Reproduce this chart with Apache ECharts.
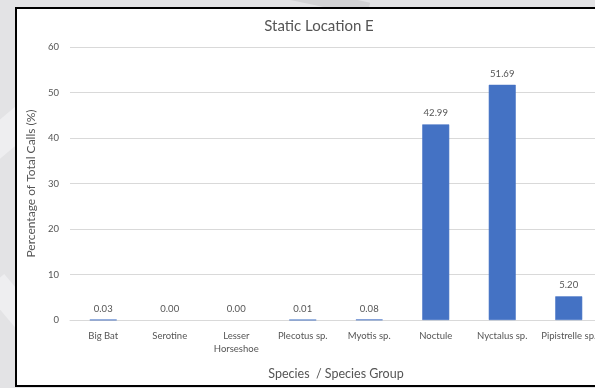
<!DOCTYPE html>
<html>
<head>
<meta charset="utf-8">
<script src="https://cdn.jsdelivr.net/npm/echarts@6/dist/echarts.min.js"></script>
<style>
  html, body { margin: 0; padding: 0; width: 595px; height: 388px; overflow: hidden; background: #e3e3e5; }
  .shape { position: absolute; background: #eeeef0; }
  #frame {
    position: absolute; left: 15px; top: 7px; width: 600px; height: 376px;
    border: 2px solid #000; border-right: none; background: #fff;
  }
  #chart { width: 600px; height: 376px; }
</style>
</head>
<body>
<div class="shape" style="left:-40px;top:120px;width:90px;height:30px;transform:rotate(-40deg);"></div>
<div class="shape" style="left:-20px;top:300px;width:80px;height:26px;transform:rotate(50deg);"></div>
<div class="shape" style="left:250px;top:-10px;width:120px;height:14px;transform:rotate(12deg);background:#d2d2d4;"></div>
<div id="frame"><div id="chart"></div></div>
<script>
// Species / species groups recorded at the static detector
const categories = ['Big Bat', 'Serotine', 'Lesser\nHorseshoe', 'Plecotus sp.', 'Myotis sp.', 'Noctule', 'Nyctalus sp.', 'Pipistrelle sp.'];
// Share of all recorded calls, in percent
const percentages = [0.03, 0.00, 0.00, 0.01, 0.08, 42.99, 51.69, 5.20];
const yTicks = { min: 0, max: 60, interval: 10 };

const textColor = '#555555';
const barColor = '#4472C4';
const font = 'Lato, "Open Sans", sans-serif';

const barData = percentages.map(v => ({
  value: v,
  // tiny non-zero shares still show as a hairline
  itemStyle: v > 0 ? { borderColor: barColor, borderWidth: 0.6 } : { borderWidth: 0 }
}));

const chart = echarts.init(document.getElementById('chart'), null, { renderer: 'canvas' });
chart.setOption({
  animation: false,
  backgroundColor: '#fff',
  title: {
    text: 'Static Location E',
    left: 297, top: 5, textAlign: 'center',
    textStyle: { fontFamily: font, fontSize: 15, fontWeight: 'normal', color: textColor }
  },
  grid: { left: 51.7, right: 15, top: 38, bottom: 63, containLabel: false },
  xAxis: {
    type: 'category',
    data: categories,
    name: 'Species  / Species Group',
    nameLocation: 'middle',
    nameGap: 47,
    nameTextStyle: { fontFamily: font, fontSize: 12.5, color: textColor },
    axisLine: { show: true, lineStyle: { color: '#d9d9d9', width: 1 } },
    axisTick: { show: false },
    axisLabel: { fontFamily: font, fontSize: 9.5, color: textColor, margin: 9, lineHeight: 13, interval: 0 }
  },
  yAxis: {
    type: 'value',
    min: yTicks.min, max: yTicks.max, interval: yTicks.interval,
    name: 'Percentage of Total Calls (%)',
    nameLocation: 'middle',
    nameGap: 33,
    nameRotate: 90,
    nameTextStyle: { fontFamily: font, fontSize: 12, color: textColor },
    axisLine: { show: false },
    axisTick: { show: false },
    axisLabel: { fontFamily: font, fontSize: 9.5, color: textColor, margin: 11 },
    splitLine: { lineStyle: { color: '#d9d9d9', width: 1 } }
  },
  series: [{
    type: 'bar',
    data: barData,
    barWidth: 27,
    itemStyle: { color: barColor },
    label: {
      show: true, position: 'top', distance: 6,
      fontFamily: font, fontSize: 9.5, color: textColor,
      formatter: p => p.value.toFixed(2)
    }
  }]
});
</script>
</body>
</html>
